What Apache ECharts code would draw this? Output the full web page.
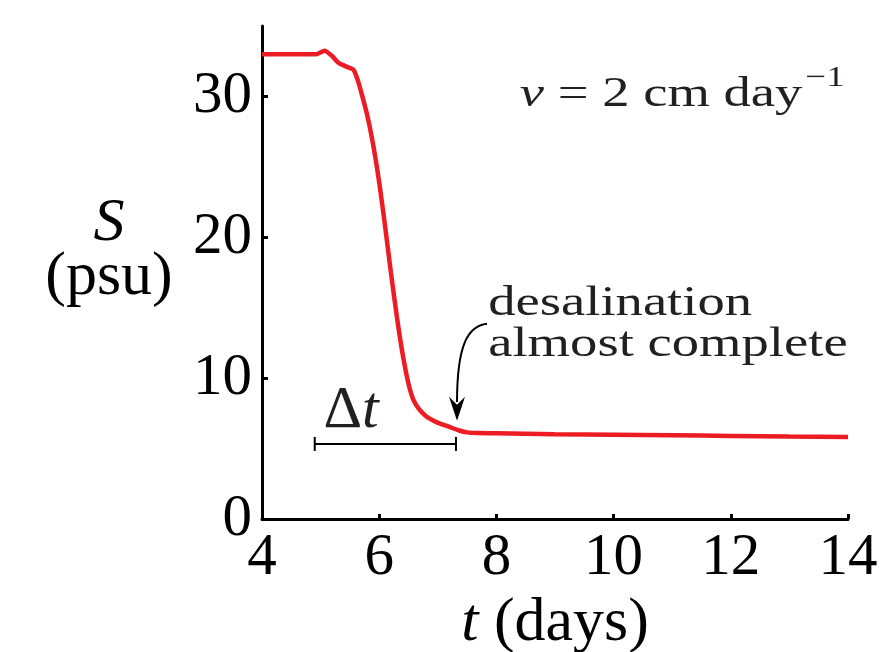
<!DOCTYPE html>
<html>
<head>
<meta charset="utf-8">
<script src="https://cdn.jsdelivr.net/npm/echarts@6/dist/echarts.min.js"></script>
<style>
  html, body { margin: 0; padding: 0; background: #ffffff; }
  #chart { width: 882px; height: 652px; }
</style>
</head>
<body>
<div id="chart"></div>
<script>
// Salinity S (psu) against time t (days), advection speed v = 2 cm/day
const days = [4.0, 4.93, 5.07, 5.2, 5.3, 5.45, 5.56, 5.63, 5.7, 5.8, 5.9, 6.0, 6.1, 6.2, 6.3, 6.4,
              6.5, 6.58, 6.68, 6.8, 6.92, 7.05, 7.21, 7.35, 7.5, 7.7, 8.0, 9.0, 10.0, 11.0, 12.0, 13.0, 14.0];
const salinity = [33.0, 33.0, 33.25, 32.85, 32.4, 32.1, 31.9, 31.2, 30.2, 28.6, 26.5, 23.9, 20.8, 17.5, 14.4, 11.7,
                  9.6, 8.5, 7.8, 7.3, 7.0, 6.75, 6.52, 6.3, 6.15, 6.1, 6.08, 6.02, 5.98, 5.94, 5.9, 5.86, 5.83];

const xTickValues = [4, 6, 8, 10, 12, 14];
const yTickValues = [0, 10, 20, 30];

// Δt interval bar (days) and the salinity level it is drawn at
const deltaSpan = [4.9, 7.31];
const deltaLevel = 5.33;

// annotation anchors in data coordinates [t, S]
const velocityAnchor = [8.4, 29.3];
const noteAnchor = [7.86, 14.5];
const noteLine2 = [7.86, 11.6];
const arrowPath = [[7.84, 13.86], [7.515, 13.72], [7.328, 12.37], [7.328, 8.3]];
const arrowTip = [7.328, 6.97];
const deltaLabelAnchor = [5.52, 6.54];

const SERIF = '"Liberation Serif", "DejaVu Serif", serif';
const INK = '#231f20';

const chart = echarts.init(document.getElementById('chart'), null, { renderer: 'canvas' });

chart.setOption({
  animation: false,
  backgroundColor: '#ffffff',
  grid: { left: 262, right: 34, top: 26, bottom: 133, containLabel: false, outerBoundsMode: 'none' },
  xAxis: {
    type: 'value', min: 4, max: 14, interval: 2,
    name: '{i|t} (days)',
    nameLocation: 'middle', nameGap: 70,
    nameTextStyle: {
      fontFamily: SERIF, fontSize: 62, color: '#000',
      rich: { i: { fontFamily: SERIF, fontSize: 62, fontStyle: 'italic', color: '#000' } }
    },
    axisLine: { onZero: false, lineStyle: { color: '#000', width: 3 } },
    axisTick: { inside: true, length: 5, lineStyle: { color: '#000', width: 3 }, customValues: xTickValues },
    axisLabel: { fontFamily: SERIF, fontSize: 59, color: '#000', margin: 10, customValues: xTickValues },
    splitLine: { show: false }
  },
  yAxis: {
    type: 'value', min: 0, max: 35, interval: 10,
    name: '{i|S}\n(psu)',
    nameLocation: 'middle', nameGap: 153, nameRotate: 0,
    nameTextStyle: {
      fontFamily: SERIF, fontSize: 62, color: '#000', align: 'center', verticalAlign: 'middle',
      lineHeight: 54, padding: [0, 0, 44, 0],
      rich: { i: { fontFamily: SERIF, fontSize: 62, fontStyle: 'italic', color: '#000', lineHeight: 54 } }
    },
    axisLine: { lineStyle: { color: '#000', width: 3 } },
    axisTick: { inside: true, length: 6, lineStyle: { color: '#000', width: 3 }, customValues: yTickValues },
    axisLabel: { fontFamily: SERIF, fontSize: 59, color: '#000', margin: 10, customValues: yTickValues },
    splitLine: { show: false }
  },
  series: [{
    type: 'line',
    data: days.map((t, i) => [t, salinity[i]]),
    showSymbol: false,
    smooth: 0.2,
    lineStyle: { color: '#ed1c24', width: 4.5 },
    z: 3
  }]
});

// Annotations placed from data-space anchors
function px(p) { return chart.convertToPixel({ gridIndex: 0 }, p); }

const measureCtx = document.createElement('canvas').getContext('2d');
function textWidth(str, font) { measureCtx.font = font; return measureCtx.measureText(str).width; }

function drawAnnotations() {
  const v = px(velocityAnchor);
  const n1 = px(noteAnchor);
  const n2 = px(noteLine2);
  const a = arrowPath.map(px);
  const tip = px(arrowTip);
  const d0 = px([deltaSpan[0], deltaLevel]);
  const d1 = px([deltaSpan[1], deltaLevel]);
  const dl = px(deltaLabelAnchor);
  const fs = 43, sx = 1.27, supFs = 29;
  const mid = 0.26; // baseline-to-middle offset as a fraction of font size

  const mainWidth = (textWidth('v', 'italic ' + fs + 'px ' + SERIF) +
                     textWidth(' = 2 cm day', fs + 'px ' + SERIF)) * sx;

  chart.setOption({
    graphic: [
      {
        type: 'text', x: v[0], y: v[1] - mid * fs, scaleX: sx,
        style: {
          text: '{i|v} = 2 cm day',
          font: fs + 'px ' + SERIF, fill: INK, align: 'left', verticalAlign: 'middle',
          rich: { i: { fontFamily: SERIF, fontSize: fs, fontStyle: 'italic', fill: INK } }
        }
      },
      {
        type: 'text', x: v[0] + mainWidth + 3, y: v[1] - 20 - mid * supFs, scaleX: sx,
        style: { text: '\u22121', font: supFs + 'px ' + SERIF, fill: INK, align: 'left', verticalAlign: 'middle' }
      },
      {
        type: 'text', x: n1[0], y: n1[1] - mid * fs, scaleX: sx,
        style: { text: 'desalination', font: fs + 'px ' + SERIF, fill: INK, align: 'left', verticalAlign: 'middle' }
      },
      {
        type: 'text', x: n2[0], y: n2[1] - mid * fs, scaleX: sx,
        style: { text: 'almost complete', font: fs + 'px ' + SERIF, fill: INK, align: 'left', verticalAlign: 'middle' }
      },
      {
        type: 'bezierCurve',
        shape: { x1: a[0][0], y1: a[0][1], cpx1: a[1][0], cpy1: a[1][1], cpx2: a[2][0], cpy2: a[2][1], x2: a[3][0], y2: a[3][1] },
        style: { stroke: '#000', lineWidth: 2, fill: null }
      },
      {
        type: 'polygon',
        shape: { points: [[tip[0], tip[1]], [tip[0] - 8, tip[1] - 24], [tip[0], tip[1] - 16], [tip[0] + 8, tip[1] - 24]] },
        style: { fill: '#000' }
      },
      {
        type: 'line',
        shape: { x1: d0[0], y1: d0[1], x2: d1[0], y2: d1[1] },
        style: { stroke: '#000', lineWidth: 2 }
      },
      {
        type: 'line',
        shape: { x1: d0[0], y1: d0[1] - 7, x2: d0[0], y2: d0[1] + 7 },
        style: { stroke: '#000', lineWidth: 2 }
      },
      {
        type: 'line',
        shape: { x1: d1[0], y1: d1[1] - 7, x2: d1[0], y2: d1[1] + 7 },
        style: { stroke: '#000', lineWidth: 2 }
      },
      {
        type: 'text', x: dl[0], y: dl[1] - mid * 60,
        style: {
          text: '\u0394{i|t}', font: '60px ' + SERIF, fill: INK, align: 'center', verticalAlign: 'middle',
          rich: { i: { fontFamily: SERIF, fontSize: 60, fontStyle: 'italic', fill: INK } }
        }
      }
    ]
  });
}
drawAnnotations();
</script>
</body>
</html>
